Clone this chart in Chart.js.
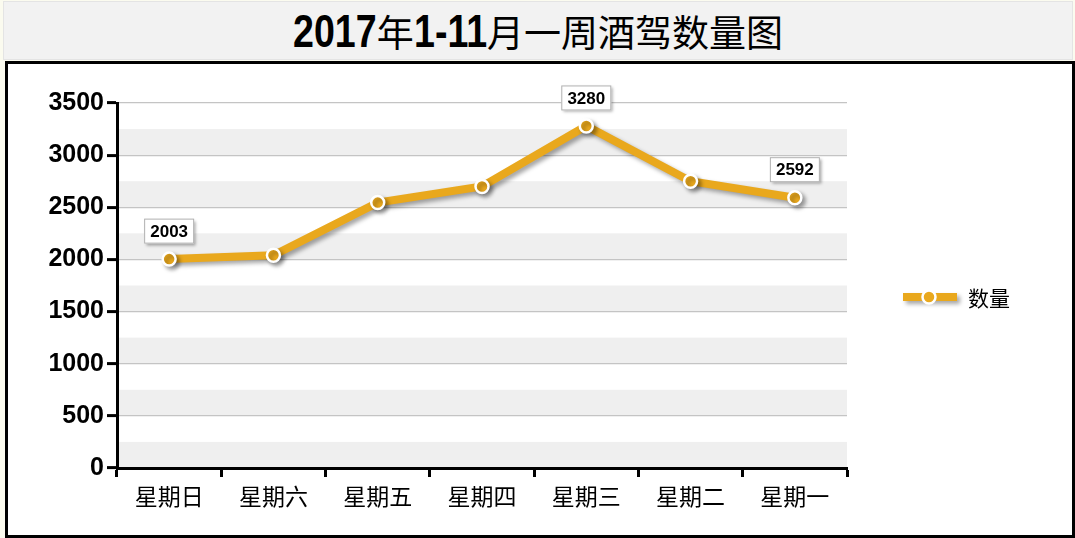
<!DOCTYPE html>
<html>
<head>
<meta charset="utf-8">
<script src="https://cdn.jsdelivr.net/npm/chart.js@4/dist/chart.umd.min.js"></script>
<style>
  html,body{margin:0;padding:0;}
  body{width:1075px;height:538px;background:#fbfbef;position:relative;overflow:hidden;}
  #title{position:absolute;left:3px;top:1px;width:1068px;height:57px;background:#f2f2f2;border:1px solid #e4e4e4;
    text-align:center;line-height:58px;color:#000;white-space:nowrap;}
  #title .n{display:inline-block;transform-origin:0 50%;transform:scaleX(0.8);
    font-family:"Liberation Sans",Arial,sans-serif;font-weight:bold;font-size:47px;vertical-align:top;}
  #title .c{font-family:"Noto Sans CJK SC",sans-serif;font-size:37px;font-weight:400;vertical-align:top;}
  #box{position:absolute;left:5px;top:61px;width:1064px;height:471px;background:#fff;border:3px solid #000;}
  #c{position:absolute;left:0;top:0;}
</style>
</head>
<body>
<div id="title"><span class="n">2017</span><span class="c">年</span><span class="n">1-11</span><span class="c">月一周酒驾数量图</span></div>
<div id="box"></div>
<canvas id="c" width="1075" height="538"></canvas>
<script>
const categories = ['星期日','星期六','星期五','星期四','星期三','星期二','星期一'];
const seriesName = '数量';
const counts = [2003, 2040, 2545, 2700, 3280, 2750, 2592];
const labeledIdx = [0, 4, 6];          // points that carry a value box
const yMax = 3500, yStep = 250, yLabelStep = 500;

const gold = '#e9a81d';

// squeeze the title digits like a narrow font
document.querySelectorAll('#title .n').forEach(s=>{ s.style.marginRight = (-0.2*s.offsetWidth)+'px'; });

// alternating grey bands behind the plot
const bands = {
  id:'bands',
  beforeDraw(chart){
    const {ctx, chartArea:a, scales:{y}} = chart;
    ctx.save();
    ctx.fillStyle = '#efefef';
    for(let v=0; v<yMax; v+=yStep*2){
      const top = y.getPixelForValue(v+yStep), bot = y.getPixelForValue(v);
      ctx.fillRect(a.left, top, a.right-a.left, bot-top);
    }
    ctx.restore();
  }
};

// drop shadow under the line
const shadow = {
  id:'shadow',
  beforeDatasetDraw(chart){
    const ctx=chart.ctx; ctx.save();
    ctx.shadowColor='rgba(0,0,0,0.35)'; ctx.shadowOffsetX=3; ctx.shadowOffsetY=3; ctx.shadowBlur=4;
  },
  afterDatasetDraw(chart){ chart.ctx.restore(); }
};

// value boxes + legend
const extras = {
  id:'extras',
  afterDatasetsDraw(chart){
    const ctx=chart.ctx;
    const meta=chart.getDatasetMeta(0);
    ctx.save();
    ctx.font='bold 17px "Liberation Sans", Arial, sans-serif';
    ctx.textAlign='center'; ctx.textBaseline='middle';
    labeledIdx.forEach(i=>{
      const p=meta.data[i];
      const cx=p.x, cy=p.y-28, w=50, h=25;
      ctx.save();
      ctx.shadowColor='rgba(0,0,0,0.35)'; ctx.shadowOffsetX=2; ctx.shadowOffsetY=2; ctx.shadowBlur=3;
      ctx.fillStyle='#fff'; ctx.fillRect(cx-w/2, cy-h/2, w, h);
      ctx.restore();
      ctx.strokeStyle='#b0b0b0'; ctx.lineWidth=1;
      ctx.strokeRect(cx-w/2+0.5, cy-h/2+0.5, w-1, h-1);
      ctx.fillStyle='#000';
      ctx.fillText(String(counts[i]), cx, cy+1);
    });

    // legend
    const lx=903, ly=297;
    ctx.save();
    ctx.shadowColor='rgba(0,0,0,0.35)'; ctx.shadowOffsetX=3; ctx.shadowOffsetY=3; ctx.shadowBlur=4;
    ctx.strokeStyle=gold; ctx.lineWidth=8; ctx.lineCap='butt';
    ctx.beginPath(); ctx.moveTo(lx,ly); ctx.lineTo(lx+54,ly); ctx.stroke();
    ctx.restore();
    ctx.beginPath(); ctx.arc(lx+26, ly, 6.5, 0, Math.PI*2);
    ctx.fillStyle=gold; ctx.fill(); ctx.strokeStyle='#fff'; ctx.lineWidth=2.5; ctx.stroke();
    ctx.fillStyle='#000'; ctx.textAlign='left';
    ctx.font='21px "Noto Sans CJK SC", sans-serif';
    ctx.fillText(seriesName, 968, ly+1);
    ctx.restore();
  }
};

new Chart(document.getElementById('c'), {
  type:'line',
  data:{
    labels:categories,
    datasets:[{
      label:seriesName, data:counts,
      borderColor:gold, borderWidth:8, tension:0,
      pointBackgroundColor:gold, pointBorderColor:'#fff', pointBorderWidth:2.5, pointRadius:6.5
    }]
  },
  options:{
    responsive:false, animation:false,
    layout:{padding:{top:103, right:228, left:0, bottom:0}},
    plugins:{legend:{display:false}, tooltip:{enabled:false}, title:{display:false}},
    scales:{
      x:{
        offset:true,
        grid:{offset:true, drawOnChartArea:false, drawTicks:true, tickLength:9, tickWidth:3, tickColor:'#000'},
        border:{color:'#000', width:3},
        ticks:{color:'#000', padding:5, font:{family:'"Noto Sans CJK SC", sans-serif', size:23}},
        afterFit(s){ s.height=70; }
      },
      y:{
        min:0, max:yMax,
        grid:{color:'#c4c4c4', lineWidth:1.2, tickLength:10,
          tickColor:c=>c.tick && c.tick.value%yLabelStep===0 ? '#000' : 'rgba(0,0,0,0)', tickWidth:3},
        border:{color:'#000', width:3},
        ticks:{stepSize:yStep, color:'#000', padding:3,
          font:{family:'"Liberation Sans", Arial, sans-serif', size:25, weight:'bold'},
          callback:v=> v%yLabelStep===0 ? v : ''},
        afterFit(s){ s.width=117; }
      }
    }
  },
  plugins:[bands, shadow, extras]
});
</script>
</body>
</html>
